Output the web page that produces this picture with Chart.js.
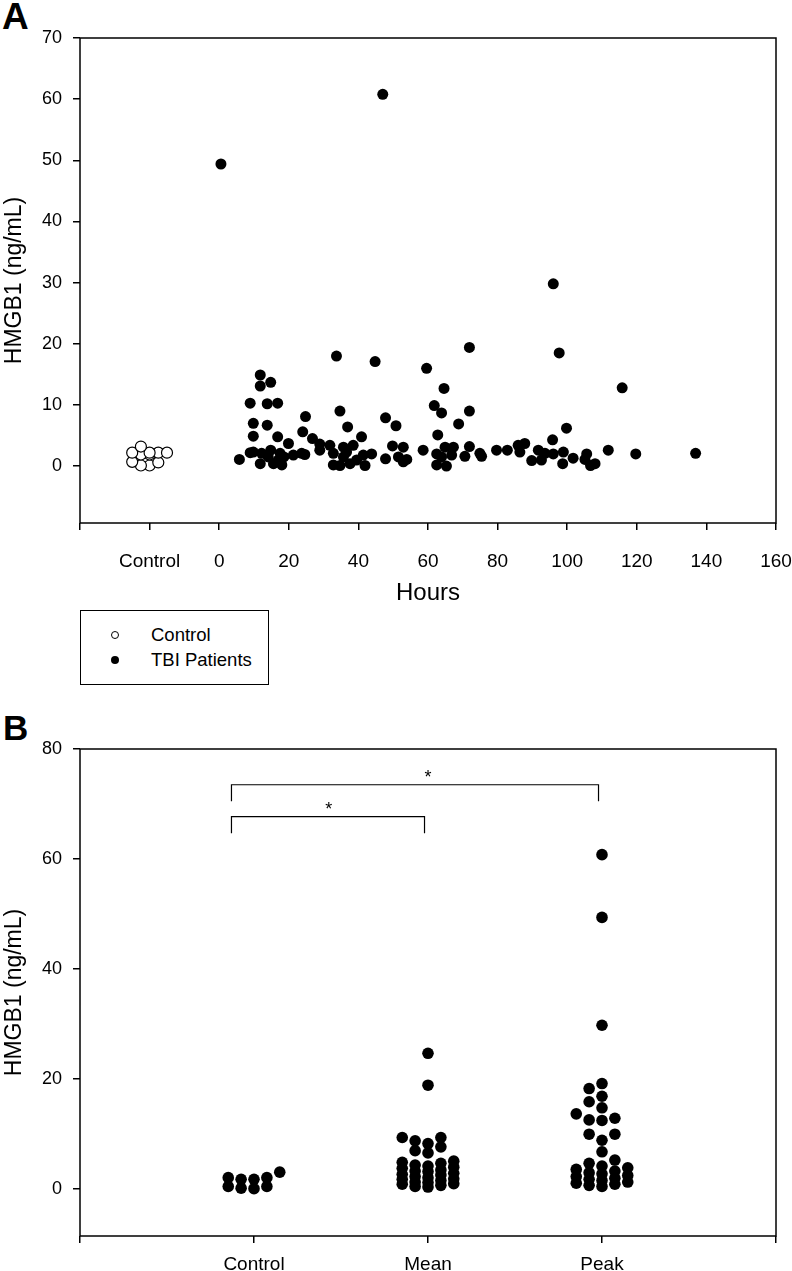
<!DOCTYPE html>
<html>
<head>
<meta charset="utf-8">
<script src="https://cdn.jsdelivr.net/npm/chart.js@4.4.1/dist/chart.umd.min.js"></script>
<style>
  html, body { margin: 0; padding: 0; background: #fff; }
  body { width: 792px; height: 1271px; position: relative; overflow: hidden;
         font-family: "Liberation Sans", Arial, sans-serif; color: #000; }
  canvas { position: absolute; left: 0; }
  #chartA { top: 0; }
  #chartB { top: 700px; }
  .letter { position: absolute; font-weight: bold; line-height: 1; }
  #legend { position: absolute; left: 80px; top: 610px; width: 189px; height: 75px;
            border: 1px solid #000; box-sizing: border-box; }
  .row { position: absolute; left: 0; height: 22px; line-height: 22px; font-size: 18.5px; }
  .row .mk { position: absolute; left: 30px; top: 7px; width: 8px; height: 8px;
             border-radius: 50%; box-sizing: border-box; }
  .row .tx { position: absolute; left: 70px; white-space: nowrap; }
</style>
</head>
<body>
<div class="letter" style="left:2px; top:-2px; font-size:37px;">A</div>
<canvas id="chartA" width="792" height="610"></canvas>
<div id="legend">
  <div class="row" style="top:13px;"><span class="mk" style="border:1px solid #000;background:#fff;"></span><span class="tx">Control</span></div>
  <div class="row" style="top:38px;"><span class="mk" style="background:#000;"></span><span class="tx">TBI Patients</span></div>
</div>
<div class="letter" style="left:3px; top:710px; font-size:35px;">B</div>
<canvas id="chartB" width="792" height="571"></canvas>

<script>
// -------- Data: panel A (HMGB1 vs hours after injury) --------
const xTicksA = [-40, -20, 0, 20, 40, 60, 80, 100, 120, 140, 160];
const xTickLabelsA = ['', 'Control', '0', '20', '40', '60', '80', '100', '120', '140', '160'];
const yTicksA = [0, 10, 20, 30, 40, 50, 60, 70];
const controlPosA = -20;   // the "Control" slot on the hours axis
const controlLevelsA = [2.2, 1.9, 2.2, 2.2, 3.2, 2.2, 1.9, 0.1, 0.1, 0.7, 0.6];

const tbiHours = [
  5.8, 11.8, 11.8, 14.8, 8.9, 13.8, 16.8, 9.8, 13.8, 9.8, 16.8, 19.9, 9.8,
  8.9, 12.2, 14.8, 17.5, 11.8, 15.6, 18.0, 18.6, 21.3, 23.7, 17.0, 14.1,
  33.7, 44.8, 59.6, 71.9, 64.6, 24.8, 34.7, 61.8, 63.9, 71.9, 47.8, 50.8,
  36.9, 68.8, 24.0, 26.8, 40.9, 62.8, 28.9, 31.8, 35.7, 38.5, 49.8, 52.9,
  58.6, 64.9, 67.3, 71.9, 74.9, 79.7, 82.8, 85.9, 24.6, 28.9, 32.8, 32.8,
  34.7, 37.6, 41.4, 41.9, 43.8, 47.8, 51.5, 52.9, 53.9, 62.5, 62.5, 65.3,
  63.9, 66.8, 70.6, 75.4, 35.7, 39.5, 36.6,
  97.7, 115.8, 99.8, 87.8, 95.8, 86.4, 91.7, 93.6, 89.8, 92.6, 96.0, 98.9,
  98.7, 101.7, 105.6, 105.1, 106.7, 108.0, 111.8, 119.7, 136.9,
  0.5, 47.0, 96.0
];
const tbiLevels = [
  1.1, 14.9, 13.1, 13.7, 10.3, 10.2, 10.3, 7.0, 6.7, 4.9, 4.8, 3.7, 2.3,
  2.2, 2.1, 2.6, 2.1, 0.4, 0.4, 0.2, 1.5, 1.8, 2.1, 1.0, 1.5,
  18.0, 17.1, 16.0, 19.4, 12.7, 8.1, 9.0, 9.9, 8.7, 9.0, 7.9, 6.6,
  6.4, 6.9, 5.6, 4.5, 4.8, 5.1, 3.6, 3.4, 3.1, 3.4, 3.3, 3.1,
  2.6, 3.1, 3.1, 3.2, 2.1, 2.6, 2.6, 3.4, 1.9, 2.6, 2.1, 0.2,
  0.1, 0.4, 1.8, 0.1, 2.0, 1.2, 1.5, 0.7, 1.1, 2.0, 0.2, 0.0,
  1.5, 1.8, 1.6, 1.6, 1.5, 1.0, 2.3,
  18.5, 12.8, 6.2, 3.7, 4.3, 2.3, 2.6, 2.1, 0.9, 1.0, 2.0, 2.3,
  0.4, 1.3, 2.0, 1.1, 0.1, 0.4, 2.6, 2.0, 2.1,
  49.4, 60.8, 29.8
];

// -------- Data: panel B (control vs patient mean / peak) --------
const groupsB = ['Control', 'Mean', 'Peak'];
const yTicksB = [0, 20, 40, 60, 80];
const controlB = [2.1, 0.5, 1.8, 1.8, 0.1, 3.1, 0.5, 2.1, 0.2];
const meanB = [
  24.7, 18.9, 9.4, 9.4, 8.8, 8.3, 7.7, 7.0, 6.6,
  5.1, 4.9, 4.7, 4.4, 4.2, 4.0, 3.8, 3.5, 3.3, 3.2, 2.9, 2.7, 2.6,
  2.3, 2.1, 1.9, 1.8, 1.6, 1.3, 1.2, 1.0, 0.9, 0.7, 0.5, 0.4
];
const peakB = [
  60.8, 49.4, 29.8, 19.2, 18.3, 16.9, 15.9, 14.8, 13.7, 12.9, 12.6, 12.5,
  10.0, 10.0, 8.9, 6.8, 5.3,
  4.7, 4.2, 3.9, 3.6, 3.3, 3.0, 2.8, 2.5, 2.3, 2.0, 1.8, 1.6, 1.3, 1.1, 0.9, 0.7, 0.5
];
const sigPairs = [['Control', 'Peak'], ['Control', 'Mean']];
const sigLevels = [73.5, 67.7];
const sigStarAt = [2.0, 1.43];   // where each asterisk sits along the category axis

// -------- Helpers --------
const FONT = '"Liberation Sans", Arial, sans-serif';
Chart.defaults.color = '#000';
Chart.defaults.font.family = FONT;

// spread points that sit at the same x into up to five side-by-side columns
function swarm(values, center, step, gap) {
  const slots = [0, -1, 1, -2, 2];
  const filled = new Map(slots.map(k => [k, []]));
  return [...values].sort((a, b) => a - b).map(v => {
    let pick = 0, room = -1;
    for (const k of slots) {
      const col = filled.get(k);
      const d = col.length ? Math.min(...col.map(u => Math.abs(u - v))) : Infinity;
      if (d >= gap) { pick = k; break; }
      if (d > room) { pick = k; room = d; }
    }
    filled.get(pick).push(v);
    return { x: center + pick * step, y: v };
  });
}

const frame = {
  id: 'frame',
  beforeDatasetsDraw(chart) {
    const { ctx, chartArea: a } = chart;
    ctx.save();
    ctx.strokeStyle = '#000';
    ctx.lineWidth = 1.5;
    ctx.strokeRect(a.left, a.top, a.right - a.left, a.bottom - a.top);
    ctx.restore();
  }
};

function tickGrid() {
  return { display: true, drawOnChartArea: false, drawTicks: true, tickLength: 7, color: '#000', lineWidth: 1.5 };
}
function yTitle() {
  return { display: true, text: 'HMGB1 (ng/mL)', font: { family: FONT, size: 23 }, color: '#000', padding: { top: 1, bottom: 0 } };
}
// keep the plot box where it is even if end labels stick out
function pinX(height) {
  return s => { s.height = height; s.paddingLeft = 0; s.paddingRight = 0; };
}
function pinY(s) { s.width = 80; s.paddingTop = 0; s.paddingBottom = 0; }

// -------- Panel A --------
new Chart(document.getElementById('chartA'), {
  type: 'scatter',
  data: {
    datasets: [
      {
        label: 'Control',
        data: swarm(controlLevelsA, controlPosA, 2.5, 1.4),
        pointRadius: 5.5, pointBackgroundColor: '#fff', pointBorderColor: '#000', pointBorderWidth: 1.2
      },
      {
        label: 'TBI Patients',
        data: tbiHours.map((h, i) => ({ x: h, y: tbiLevels[i] })),
        pointRadius: 5.5, pointBackgroundColor: '#000', pointBorderColor: '#000', pointBorderWidth: 0
      }
    ]
  },
  options: {
    responsive: false, animation: false, events: [],
    layout: { padding: { top: 38, right: 16, left: 0, bottom: 0 } },
    plugins: { legend: { display: false }, tooltip: { enabled: false } },
    scales: {
      x: {
        type: 'linear', min: -40, max: 160,
        afterBuildTicks: s => { s.ticks = xTicksA.map(v => ({ value: v })); },
        afterFit: pinX(87),
        ticks: { callback: (v, i) => xTickLabelsA[i], font: { family: FONT, size: 19 }, padding: 20, maxRotation: 0, autoSkip: false },
        grid: tickGrid(),
        border: { display: false },
        title: { display: true, text: 'Hours', font: { family: FONT, size: 24 }, color: '#000', padding: { top: 0, bottom: 2 } }
      },
      y: {
        type: 'linear', min: -9.3, max: 70,
        afterBuildTicks: s => { s.ticks = yTicksA.map(v => ({ value: v })); },
        afterFit: pinY,
        ticks: { font: { family: FONT, size: 18 }, padding: 11 },
        grid: tickGrid(),
        border: { display: false },
        title: yTitle()
      }
    }
  },
  plugins: [frame]
});

// -------- Panel B --------
const stepB = 0.074;
const groupPos = name => groupsB.indexOf(name) + 1;

const sigMarks = {
  id: 'sigMarks',
  afterDatasetsDraw(chart) {
    const { ctx, scales: { x, y } } = chart;
    ctx.save();
    ctx.strokeStyle = '#000';
    ctx.fillStyle = '#000';
    ctx.lineWidth = 1.2;
    ctx.font = '18px ' + FONT;
    ctx.textAlign = 'center';
    ctx.textBaseline = 'alphabetic';
    sigPairs.forEach(([a, b], i) => {
      const x0 = x.getPixelForValue(groupPos(a) - 1.75 * stepB);
      const x1 = x.getPixelForValue(groupPos(b) - 0.02);
      const yTop = y.getPixelForValue(sigLevels[i]);
      const yLeg = y.getPixelForValue(sigLevels[i] - 3);
      ctx.beginPath();
      ctx.moveTo(x0, yLeg);
      ctx.lineTo(x0, yTop);
      ctx.lineTo(x1, yTop);
      ctx.lineTo(x1, yLeg);
      ctx.stroke();
      ctx.fillText('*', x.getPixelForValue(sigStarAt[i]), yTop - 1.5);
    });
    ctx.restore();
  }
};

const dotB = { pointRadius: 5.8, pointBackgroundColor: '#000', pointBorderColor: '#000', pointBorderWidth: 0 };

new Chart(document.getElementById('chartB'), {
  type: 'scatter',
  data: {
    datasets: [
      { label: 'Control', data: swarm(controlB, groupPos('Control'), stepB, 1.55), ...dotB },
      { label: 'Mean', data: swarm(meanB, groupPos('Mean'), stepB, 1.55), ...dotB },
      { label: 'Peak', data: swarm(peakB, groupPos('Peak'), stepB, 1.55), ...dotB }
    ]
  },
  options: {
    responsive: false, animation: false, events: [],
    layout: { padding: { top: 49, right: 16, left: 0, bottom: 0 } },
    plugins: { legend: { display: false }, tooltip: { enabled: false } },
    scales: {
      x: {
        type: 'linear', min: 0, max: 4,
        afterBuildTicks: s => { s.ticks = [0, 1, 2, 3, 4].map(v => ({ value: v })); },
        afterFit: pinX(35),
        ticks: { callback: v => groupsB[v - 1] || '', font: { family: FONT, size: 19 }, padding: 10, maxRotation: 0, autoSkip: false },
        grid: tickGrid(),
        border: { display: false }
      },
      y: {
        type: 'linear', min: -8.5, max: 80,
        afterBuildTicks: s => { s.ticks = yTicksB.map(v => ({ value: v })); },
        afterFit: pinY,
        ticks: { font: { family: FONT, size: 18 }, padding: 11 },
        grid: tickGrid(),
        border: { display: false },
        title: yTitle()
      }
    }
  },
  plugins: [frame, sigMarks]
});
</script>
</body>
</html>
